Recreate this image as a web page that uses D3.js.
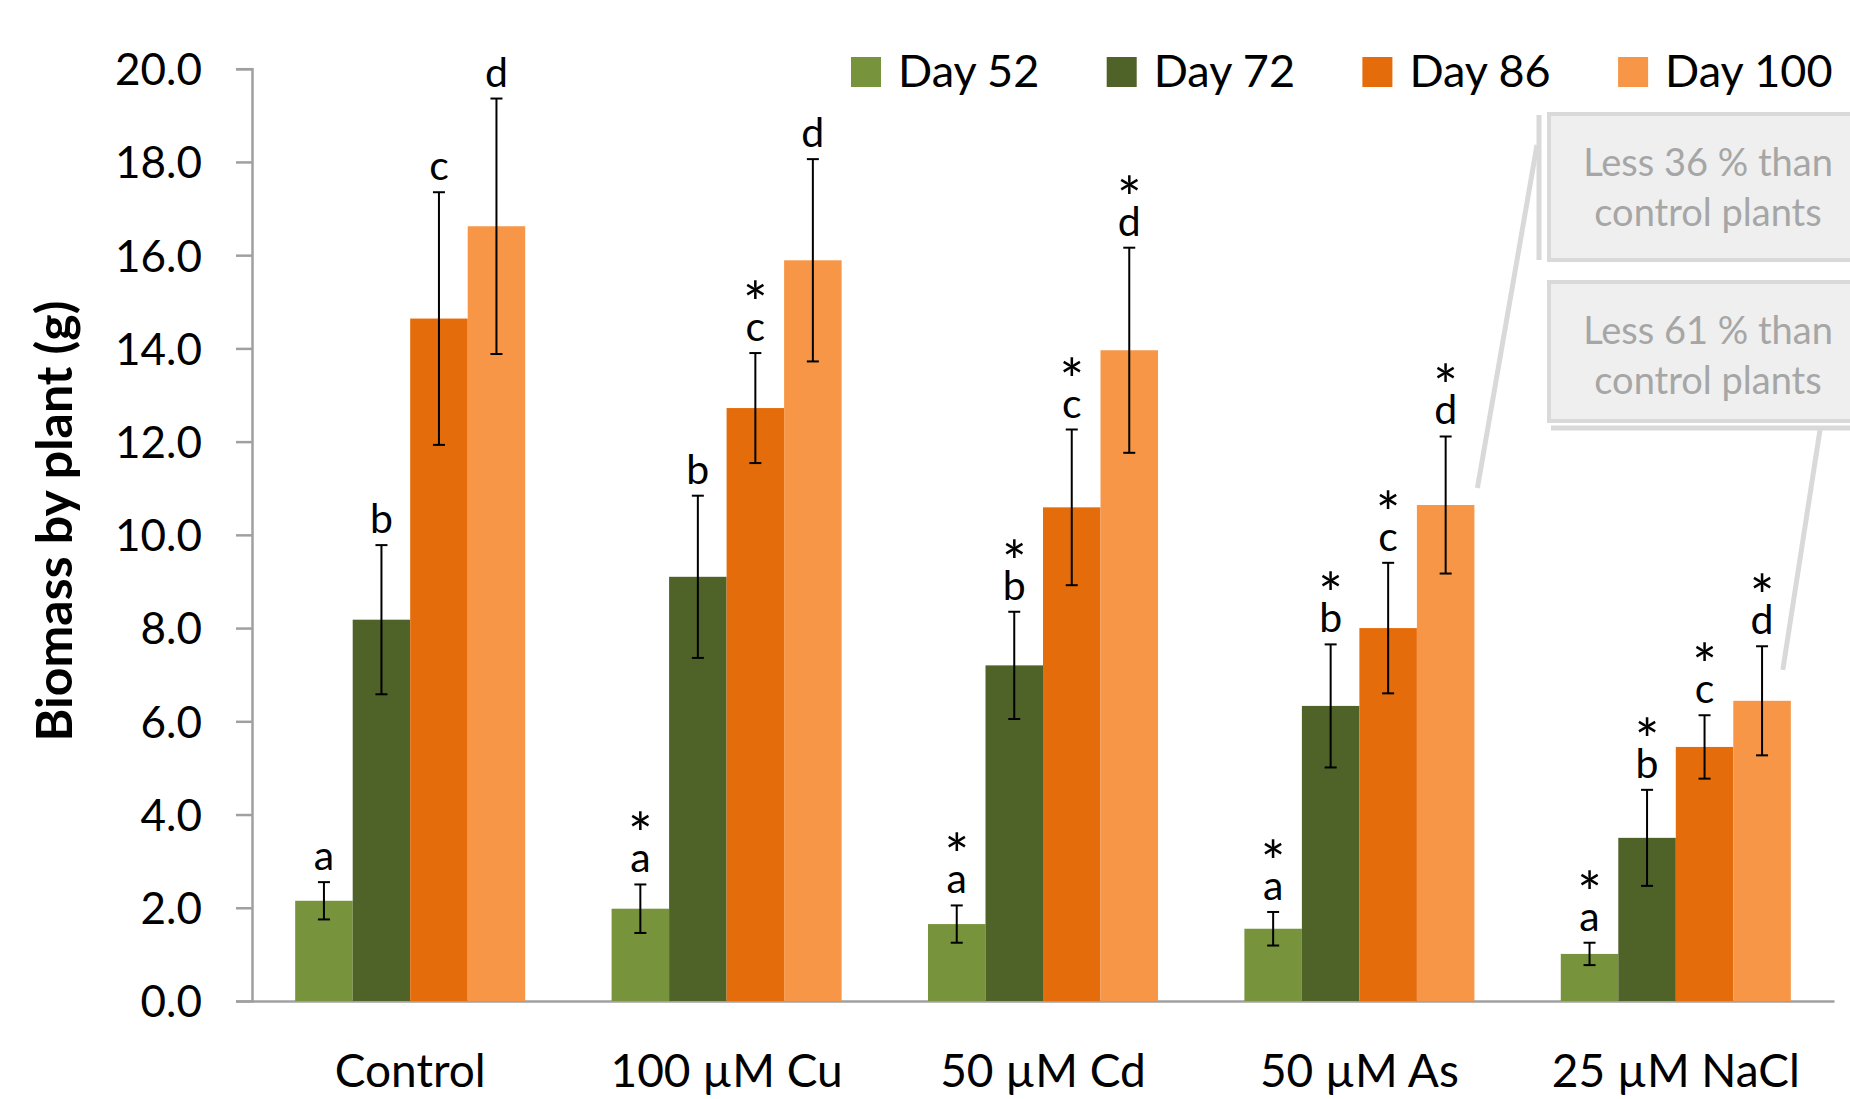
<!DOCTYPE html>
<html>
<head>
<meta charset="utf-8">
<script src="https://cdn.jsdelivr.net/npm/d3@7/dist/d3.min.js"></script>
<style>
  body{margin:0;background:#fff;}
  svg{display:block;font-family:Lato,"Open Sans",sans-serif;}
</style>
</head>
<body>
<div id="chart"></div>
<script>
// values
var categories = ["Control", "100 µM Cu", "50 µM Cd", "50 µM As", "25 µM NaCl"];
var series = ["Day 52", "Day 72", "Day 86", "Day 100"];
var colors = ["#77933C", "#4F6228", "#E46C0A", "#F79646"];

var day52  = [2.15, 1.98, 1.65, 1.55, 1.01];
var day72  = [8.18, 9.10, 7.20, 6.33, 3.50];
var day86  = [14.64, 12.72, 10.59, 8.00, 5.45];
var day100 = [16.62, 15.89, 13.96, 10.64, 6.44];

var err52  = [0.40, 0.52, 0.40, 0.36, 0.24];
var err72  = [1.60, 1.74, 1.15, 1.32, 1.03];
var err86  = [2.71, 1.18, 1.67, 1.40, 0.68];
var err100 = [2.74, 2.17, 2.20, 1.47, 1.17];

var letters = ["a", "b", "c", "d"];
var star52  = [0, 1, 1, 1, 1];
var star72  = [0, 0, 1, 1, 1];
var star86  = [0, 1, 1, 1, 1];
var star100 = [0, 0, 1, 1, 1];

var yTicks = [0, 2, 4, 6, 8, 10, 12, 14, 16, 18, 20];
var yTitle = "Biomass by plant (g)";

var callout1 = ["Less 36 % than", "control plants"];
var callout2 = ["Less 61 % than", "control plants"];

var values = [day52, day72, day86, day100];
var errors = [err52, err72, err86, err100];
var stars = [star52, star72, star86, star100];

var width = 1850, height = 1099;
var svg = d3.select("#chart").append("svg").attr("width", width).attr("height", height);

var x0 = d3.scaleBand().domain(categories).range([252, 1834]).paddingInner(0.273).paddingOuter(0.1365);
var x1 = d3.scaleBand().domain(series).range([0, x0.bandwidth()]);
var y = d3.scaleLinear().domain([0, 20]).range([1001, 68.7]);

var axisColor = "#a0a0a0";

// y axis
var yAxis = d3.axisLeft(y).tickValues(yTicks).tickSize(16).tickPadding(34).tickFormat(d3.format(".1f"));
var gy = svg.append("g").attr("transform", "translate(252,0)").call(yAxis);
gy.select(".domain").attr("stroke", axisColor).attr("stroke-width", 2.5);
gy.selectAll(".tick line").attr("stroke", axisColor).attr("stroke-width", 2.5);
gy.selectAll(".tick text").attr("font-size", 44).attr("fill", "#000").attr("font-family", "Lato").attr("dy", "0.36em");

// x axis (no ticks)
var xAxis = d3.axisBottom(x0).tickSize(0).tickPadding(0);
var gx = svg.append("g").attr("transform", "translate(0," + y(0) + ")").call(xAxis);
gx.select(".domain").attr("stroke", axisColor).attr("stroke-width", 2.5);
gx.selectAll(".tick text").attr("font-size", 46).attr("fill", "#000").attr("font-family", "Lato")
  .attr("dy", 0).attr("y", 86);

// y title
svg.append("text")
  .attr("transform", "translate(72,521) rotate(-90)")
  .attr("text-anchor", "middle")
  .attr("font-size", 50).attr("font-weight", "bold")
  .text(yTitle);

// bars
var groups = svg.selectAll(".grp").data(categories).enter().append("g")
  .attr("class", "grp")
  .attr("transform", function(d){ return "translate(" + x0(d) + ",0)"; });

series.forEach(function(s, si){
  groups.append("rect")
    .attr("x", x1(s))
    .attr("width", x1.bandwidth())
    .attr("y", function(d, i){ return y(values[si][i]); })
    .attr("height", function(d, i){ return y(0) - y(values[si][i]); })
    .attr("fill", colors[si]);
});

// error bars + letters (asterisk and letter in one text element)
series.forEach(function(s, si){
  var cx = x1(s) + x1.bandwidth() / 2;
  groups.append("line")
    .attr("x1", cx).attr("x2", cx)
    .attr("y1", function(d, i){ return y(values[si][i] + errors[si][i]); })
    .attr("y2", function(d, i){ return y(values[si][i] - errors[si][i]); })
    .attr("stroke", "#000").attr("stroke-width", 2);
  [1, -1].forEach(function(sign){
    groups.append("line")
      .attr("x1", cx - 6).attr("x2", cx + 6)
      .attr("y1", function(d, i){ return y(values[si][i] + sign * errors[si][i]); })
      .attr("y2", function(d, i){ return y(values[si][i] + sign * errors[si][i]); })
      .attr("stroke", "#000").attr("stroke-width", 2);
  });
  var lbl = groups.append("text")
    .attr("text-anchor", "middle").attr("font-size", 41);
  lbl.each(function(d, i){
    var t = d3.select(this);
    var lb = y(values[si][i] + errors[si][i]) - 12;
    if(stars[si][i]){
      t.append("tspan").attr("x", cx).attr("y", lb - 17).attr("font-size", 58).text("*");
    }
    t.append("tspan").attr("x", cx).attr("y", lb).text(letters[si]);
  });
});

// legend
var legend = svg.append("g").attr("transform", "translate(851,57)");
series.forEach(function(s, si){
  var lg = legend.append("g").attr("transform", "translate(" + (si * 255.7) + ",0)");
  lg.append("rect").attr("width", 30).attr("height", 30).attr("fill", colors[si]);
  lg.append("text").attr("x", 47).attr("y", 30).attr("font-size", 45).text(s);
});

// callouts
var boxFill = "#efefef", boxLine = "#d9d9d9", boxText = "#a6a6a6";
var drawBox = function(top, bottom, lines){
  svg.append("rect")
    .attr("x", 1549).attr("y", top)
    .attr("width", 340).attr("height", bottom - top)
    .attr("fill", boxFill).attr("stroke", boxLine).attr("stroke-width", 4);
  var t = svg.append("text").attr("text-anchor", "middle").attr("font-size", 38).attr("fill", boxText);
  lines.forEach(function(s, k){
    t.append("tspan").attr("x", 1708).attr("y", top + 62 + k * 50).text(s);
  });
};
drawBox(114, 260, callout1);
drawBox(282, 421, callout2);

// accent bars and leader lines from the bars they refer to
svg.append("line").attr("x1", 1539).attr("x2", 1539).attr("y1", 115).attr("y2", 260)
  .attr("stroke", boxLine).attr("stroke-width", 5);
svg.append("line").attr("x1", 1551).attr("x2", 1850).attr("y1", 428).attr("y2", 428)
  .attr("stroke", boxLine).attr("stroke-width", 5);

var asX = x0("50 µM As") + x1("Day 100") + x1.bandwidth();
var naX = x0("25 µM NaCl") + x1("Day 100") + x1.bandwidth();
svg.append("line")
  .attr("x1", asX + 3).attr("y1", y(day100[3]) - 17)
  .attr("x2", 1537).attr("y2", 145)
  .attr("stroke", boxLine).attr("stroke-width", 5);
svg.append("line")
  .attr("x1", naX - 8).attr("y1", y(day100[4]) - 31)
  .attr("x2", 1820).attr("y2", 430)
  .attr("stroke", boxLine).attr("stroke-width", 5);
</script>
</body>
</html>
